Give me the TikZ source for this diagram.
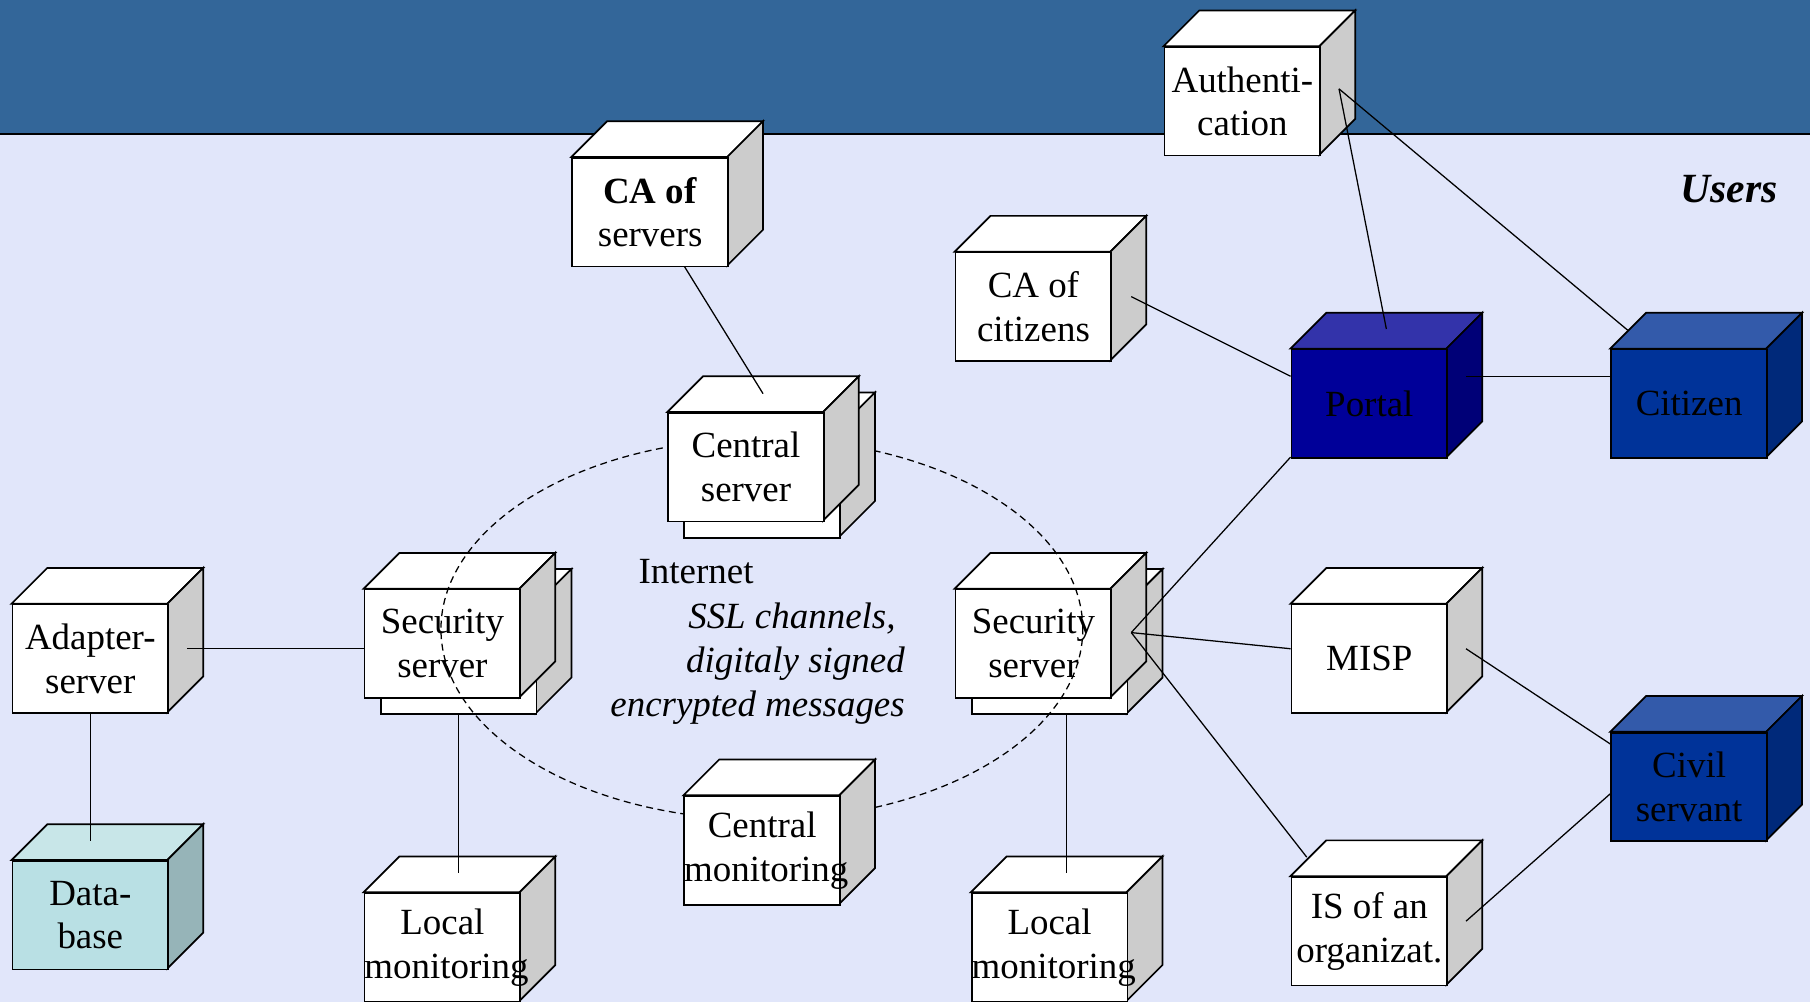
\documentclass[tikz,border=0pt]{standalone}
\usepackage{fontspec}
\setmainfont{Liberation Serif}
\usetikzlibrary{calc}
\definecolor{hdr}{RGB}{51,102,153}
\definecolor{bgc}{RGB}{225,230,250}
\definecolor{sidegray}{RGB}{204,204,204}
\definecolor{portF}{RGB}{0,0,153}
\definecolor{portT}{RGB}{51,51,170}
\definecolor{portS}{RGB}{0,0,119}
\definecolor{citF}{RGB}{0,51,153}
\definecolor{citT}{RGB}{51,90,170}
\definecolor{citS}{RGB}{0,41,122}
\definecolor{dbF}{RGB}{185,224,228}
\definecolor{dbT}{RGB}{200,230,232}
\definecolor{dbS}{RGB}{150,180,184}
\tikzset{
  boxline/.style={draw=black, line width=1.5pt, line join=miter},
  boxfront/.style={boxline, minimum width=135pt, minimum height=94pt, text width=135pt, inner sep=0pt, align=flush center, font=\fontsize{32}{38}\selectfont},
  link/.style={draw=black, line width=1.1pt},
  lbl/.style={inner sep=0pt, font=\fontsize{32}{38}\selectfont},
  ring/.style={draw=black, line width=1.1pt, dash pattern=on 6pt off 4pt},
}
\newcommand\cubebox[7]{%
  \filldraw[boxline, fill=#6] (#2,-#3) -- ++(31,31) -- ++(135,0) -- ++(-31,-31) -- cycle;
  \filldraw[boxline, fill=#7] (#2+135,-#3) -- ++(31,31) -- ++(0,-94) -- ++(-31,-31) -- cycle;
  \node[boxfront, fill=#5, anchor=north west] (#1) at (#2,-#3) {#4};
}
\begin{document}
\begin{tikzpicture}[x=1pt, y=1pt]
\useasboundingbox (0,0) rectangle (1568,-868);
\fill[bgc] (0,0) rectangle (1568,-868);
\fill[hdr] (0,0) rectangle (1568,-116);
\draw[line width=2pt] (0,-116) -- (1568,-116);

\cubebox{auth}{1008}{40}{Authenti-\\cation}{white}{white}{sidegray}
\cubebox{caserv}{495}{136}{\textbf{CA of}\\servers}{white}{white}{sidegray}
\cubebox{cacit}{827}{218}{CA of\\citizens}{white}{white}{sidegray}
\cubebox{portal}{1118}{302}{Portal}{portF}{portT}{portS}
\cubebox{citizen}{1395}{302}{Citizen}{citF}{citT}{citS}
\cubebox{secLb}{329}{524}{}{white}{white}{sidegray}
\cubebox{secL}{315}{510}{Security\\server}{white}{white}{sidegray}
\cubebox{secRb}{841}{524}{}{white}{white}{sidegray}
\cubebox{secR}{827}{510}{Security\\server}{white}{white}{sidegray}
\cubebox{adapter}{10}{523}{Adapter-\\server}{white}{white}{sidegray}
\cubebox{db}{10}{745}{Data-\\base}{dbF}{dbT}{dbS}
\cubebox{locL}{315}{773}{Local\\monitoring}{white}{white}{sidegray}
\cubebox{locR}{841}{773}{Local\\monitoring}{white}{white}{sidegray}
\cubebox{misp}{1118}{523}{MISP}{white}{white}{sidegray}
\cubebox{civil}{1395}{634}{Civil\\servant}{citF}{citT}{citS}
\cubebox{isorg}{1118}{759}{IS of an\\organizat.}{white}{white}{sidegray}

\draw[ring] (660,-545) ellipse [x radius=278, y radius=165];

\cubebox{centralb}{592}{371}{}{white}{white}{sidegray}
\cubebox{central}{578}{357}{Central\\server}{white}{white}{sidegray}
\cubebox{cmon}{592}{689}{Central\\monitoring}{white}{white}{sidegray}

% connector end points
\coordinate (pCAs) at ($(caserv.north west)+(98,-95)$);
\coordinate (pCen) at ($(central.north west)+(83,16)$);
\coordinate (pAuth) at ($(auth.north west)+(152,-37)$);
\coordinate (pPortT) at ($(portal.north west)+(83,17)$);
\coordinate (pPortL) at ($(portal.north west)+(0,-24)$);
\coordinate (pPortR) at ($(portal.north west)+(152,-24)$);
\coordinate (pPortB) at ($(portal.north west)+(0,-94)$);
\coordinate (pCitT) at ($(citizen.north west)+(15,16)$);
\coordinate (pCitL) at ($(citizen.north west)+(0,-24)$);
\coordinate (pCAc) at ($(cacit.north west)+(153,-39)$);
\coordinate (pSecR) at ($(secR.north west)+(153,-38)$);
\coordinate (pSecRb) at ($(secR.north west)+(97,-108)$);
\coordinate (pLocR) at ($(locR.north west)+(83,17)$);
\coordinate (pMispL) at ($(misp.north west)+(0,-39)$);
\coordinate (pMispR) at ($(misp.north west)+(152,-39)$);
\coordinate (pIsT) at ($(isorg.north west)+(14,16.5)$);
\coordinate (pIsR) at ($(isorg.north west)+(152,-39)$);
\coordinate (pCivA) at ($(civil.north west)+(0,-10.5)$);
\coordinate (pCivB) at ($(civil.north west)+(0,-53.6)$);
\coordinate (pSecLb) at ($(secL.north west)+(82,-108)$);
\coordinate (pSecLl) at ($(secL.north west)+(0,-52)$);
\coordinate (pLocL) at ($(locL.north west)+(82,17)$);
\coordinate (pAdR) at ($(adapter.north west)+(152,-39)$);
\coordinate (pAdB) at ($(adapter.north west)+(68.5,-94)$);
\coordinate (pDb) at ($(db.north west)+(68.5,16.4)$);

\draw[link] (pCAs) -- (pCen);
\draw[link] (pAuth) -- (pPortT);
\draw[link] (pAuth) -- (pCitT);
\draw[link] (pCAc) -- (pPortL);
\draw[link] (pPortR) -- (pCitL);
\draw[link] (pPortB) -- (pSecR);
\draw[link] (pSecR) -- (pMispL);
\draw[link] (pSecR) -- (pIsT);
\draw[link] (pMispR) -- (pCivA);
\draw[link] (pIsR) -- (pCivB);
\draw[link] (pSecRb) -- (pLocR);
\draw[link] (pSecLb) -- (pLocL);
\draw[link] (pAdR) -- (pSecLl);
\draw[link] (pAdB) -- (pDb);

\node[lbl, font=\fontsize{36}{42}\selectfont\bfseries\itshape] (users) at (1498,-164) {Users};
\node[lbl] (internet) at (603,-495) {Internet};
\node[lbl, font=\fontsize{32}{38}\selectfont\itshape, align=right, anchor=east] (ssl) at (784,-575) {SSL channels,\hspace*{0.25em}\\digitaly signed\\encrypted messages};
\end{tikzpicture}
\end{document}
